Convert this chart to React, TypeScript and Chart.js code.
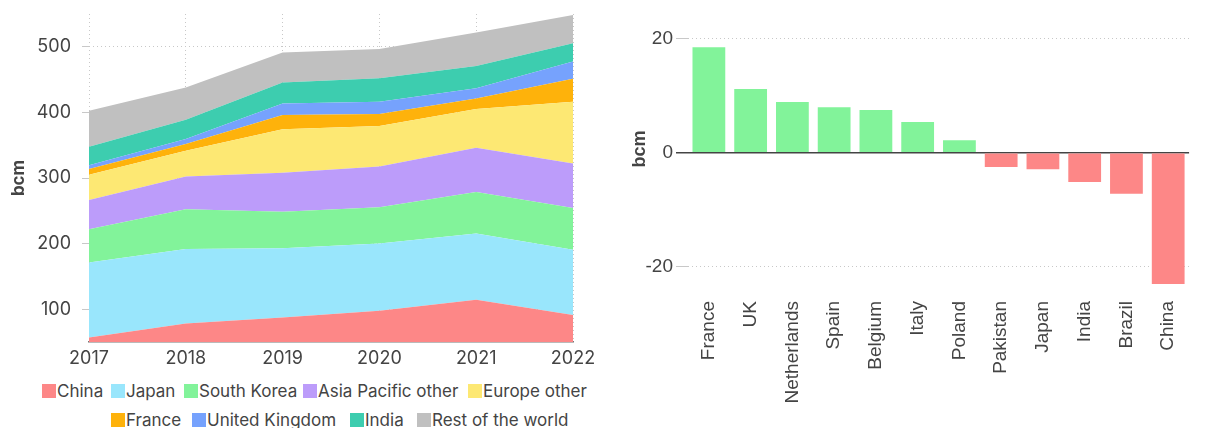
import React, { useEffect, useRef } from 'react';
import { Chart, registerables } from 'chart.js';

Chart.register(...registerables);

// ---- Left chart data (bcm) ----
const years = ['2017', '2018', '2019', '2020', '2021', '2022'];
const china = [57, 78.3, 87.4, 97.6, 114.3, 91];
const japan = [114.2, 113.3, 105.6, 102.6, 101.1, 99.5];
const southKorea = [50.8, 60.9, 55.5, 55.4, 63.1, 63.6];
const asiaPacificOther = [44.3, 49.8, 59.5, 62, 67.5, 68];
const europeOther = [38.7, 39.2, 66.5, 61.5, 59, 94.1];
const france = [8.6, 10.2, 21.4, 18.3, 16.2, 35];
const unitedKingdom = [6, 7.6, 17.7, 18.8, 15.8, 26.4];
const india = [28, 29.4, 32, 36, 33.6, 28];
const restOfWorld = [54.8, 49.3, 45.7, 44.3, 51.2, 42.7];
const leftYTicks = [100, 200, 300, 400, 500];

const seriesNames = [
  'China', 'Japan', 'South Korea', 'Asia Pacific other', 'Europe other',
  'France', 'United Kingdom', 'India', 'Rest of the world',
];
const seriesValues = [
  china, japan, southKorea, asiaPacificOther, europeOther,
  france, unitedKingdom, india, restOfWorld,
];
const seriesColors = [
  'rgb(253,135,135)', 'rgb(153,230,252)', 'rgb(130,243,154)', 'rgb(188,156,250)',
  'rgb(253,232,115)', 'rgb(254,178,11)', 'rgb(118,162,253)', 'rgb(61,205,175)',
  'rgb(192,192,192)',
];

// ---- Right chart data (bcm change) ----
const countries = ['France', 'UK', 'Netherlands', 'Spain', 'Belgium', 'Italy', 'Poland', 'Pakistan', 'Japan', 'India', 'Brazil', 'China'];
const changes = [18.5, 11.2, 8.9, 8.0, 7.5, 5.4, 2.2, -2.5, -2.9, -5.1, -7.2, -23.0];
const rightYTicks = [-20, 0, 20];

const TEXT = '#444';
const GRID = '#c8c8c8';
const INTER = 'Inter';
const SANS = "'Liberation Sans', Arial, sans-serif";

function LeftChart() {
  const ref = useRef<HTMLCanvasElement | null>(null);
  useEffect(() => {
    if (!ref.current) return;
    const chart = new Chart(ref.current, {
      type: 'line',
      data: {
        labels: years,
        datasets: seriesNames.map((name, i) => ({
          label: name,
          data: seriesValues[i],
          backgroundColor: seriesColors[i],
          borderColor: seriesColors[i],
          borderWidth: 0,
          pointRadius: 0,
          pointHoverRadius: 0,
          fill: i === 0 ? 'start' : '-1',
          tension: 0,
        })),
      },
      options: {
        animation: false,
        responsive: false,
        maintainAspectRatio: false,
        layout: { padding: { top: 14, right: 31, left: 0, bottom: 0 } },
        plugins: { legend: { display: false }, tooltip: { enabled: false } },
        scales: {
          x: {
            offset: false,
            grid: { display: true, drawTicks: false, color: GRID, lineWidth: 1 },
            border: { display: true, color: '#777', width: 1.5, dash: [1, 3] },
            ticks: { font: { family: INTER, size: 18 }, color: TEXT, padding: 6, maxRotation: 0 },
            afterFit: (s: any) => { s.height = 30; s.paddingLeft = 0; s.paddingRight = 0; },
          },
          y: {
            stacked: true,
            min: 50,
            max: 550,
            afterBuildTicks: (axis: any) => { axis.ticks = leftYTicks.map((v) => ({ value: v })); },
            grid: { color: GRID, tickLength: 7, drawTicks: true, lineWidth: 1 },
            border: { display: false, dash: [1, 3] },
            ticks: { font: { family: INTER, size: 18 }, color: TEXT, padding: 11 },
            title: {
              display: true, text: 'bcm', color: TEXT,
              font: { family: INTER, size: 17, weight: 'bold' },
              padding: { top: 9, bottom: 0 },
            },
            afterFit: (s: any) => { s.width = 89; s.paddingTop = 0; s.paddingBottom = 0; },
          },
        },
      },
    });
    return () => chart.destroy();
  }, []);
  return (
    <canvas ref={ref} width={604} height={372}
      style={{ position: 'absolute', left: 0, top: 0, width: 604, height: 372 }} />
  );
}

function RightChart() {
  const ref = useRef<HTMLCanvasElement | null>(null);
  useEffect(() => {
    if (!ref.current) return;
    const chart = new Chart(ref.current, {
      type: 'bar',
      data: {
        labels: countries,
        datasets: [{
          label: 'Change',
          data: changes,
          backgroundColor: changes.map((v) => (v >= 0 ? 'rgb(130,243,154)' : 'rgb(253,135,135)')),
          borderWidth: 0,
          categoryPercentage: 1,
          barPercentage: 0.785,
        }],
      },
      options: {
        animation: false,
        responsive: false,
        maintainAspectRatio: false,
        layout: { padding: { top: 14, right: 0, left: 0, bottom: 0 } },
        plugins: { legend: { display: false }, tooltip: { enabled: false } },
        scales: {
          x: {
            grid: { display: false, drawTicks: false },
            border: { display: false },
            ticks: {
              font: { family: SANS, size: 19 }, color: TEXT, padding: 17,
              minRotation: 90, maxRotation: 90, autoSkip: false,
            },
            afterFit: (s: any) => { s.height = 144; },
          },
          y: {
            min: -23,
            max: 24.33,
            afterBuildTicks: (axis: any) => { axis.ticks = rightYTicks.map((v) => ({ value: v })); },
            grid: {
              tickLength: 12,
              drawTicks: true,
              color: (ctx: any) => (ctx.tick && ctx.tick.value === 0 ? '#444' : GRID),
              lineWidth: (ctx: any) => (ctx.tick && ctx.tick.value === 0 ? 1.5 : 1),
            },
            border: {
              display: false,
              dash: (ctx: any) => (ctx.tick && ctx.tick.value === 0 ? [] : [1, 3]),
            },
            ticks: { font: { family: SANS, size: 19 }, color: TEXT, padding: 3 },
            title: {
              display: true, text: 'bcm', color: TEXT,
              font: { family: SANS, size: 18, weight: 'bold' },
              padding: { top: 9, bottom: 0 },
            },
            afterFit: (s: any) => { s.width = 68; s.paddingTop = 0; s.paddingBottom = 0; },
          },
        },
      },
    });
    return () => chart.destroy();
  }, []);
  return (
    <canvas ref={ref} width={588} height={428}
      style={{ position: 'absolute', left: 620, top: 0, width: 588, height: 428 }} />
  );
}

// Legend item x positions (layout only)
const legendRows = [
  { top: 381, items: [[0, 42], [1, 111], [2, 184], [3, 303], [4, 468]] },
  { top: 410, items: [[5, 111], [6, 192], [7, 350], [8, 417]] },
];

function Legend() {
  return (
    <>
      {legendRows.map((row, r) =>
        row.items.map(([i, x]) => (
          <div key={`${r}-${i}`} style={{
            position: 'absolute', top: row.top, left: x, height: 20,
            display: 'flex', alignItems: 'center', whiteSpace: 'nowrap',
            fontFamily: INTER, fontSize: 17, color: TEXT, lineHeight: '20px',
          }}>
            <span style={{ display: 'inline-block', width: 14, height: 14, background: seriesColors[i], marginRight: 1 }} />
            <span>{seriesNames[i]}</span>
          </div>
        ))
      )}
    </>
  );
}

export default function App() {
  return (
    <div style={{ position: 'fixed', left: 0, top: 0, width: 1208, height: 428, background: '#fff', overflow: 'hidden' }}>
      <LeftChart />
      <RightChart />
      <Legend />
    </div>
  );
}
